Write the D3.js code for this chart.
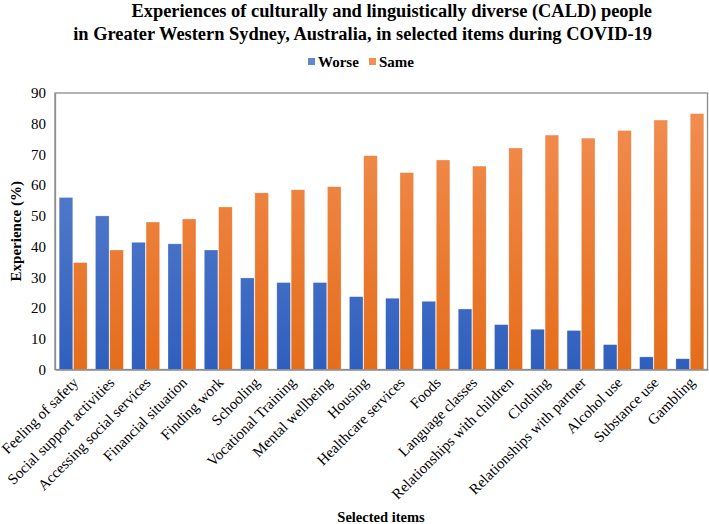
<!DOCTYPE html>
<html>
<head>
<meta charset="utf-8">
<script src="https://cdn.jsdelivr.net/npm/d3@7"></script>
<style>
  html, body { margin: 0; padding: 0; background: #fff; }
  svg { display: block; font-family: "Liberation Serif", "Times New Roman", serif; }
</style>
</head>
<body>
<svg id="chart" width="709" height="524"></svg>
<script>
const categories = ["Feeling of safety", "Social support activities", "Accessing social services",
  "Financial situation", "Finding work", "Schooling", "Vocational Training", "Mental wellbeing",
  "Housing", "Healthcare services", "Foods", "Language classes", "Relationships with children",
  "Clothing", "Relationships with partner", "Alcohol use", "Substance use", "Gambling"];
const worse = [56, 50, 41.4, 40.9, 38.9, 29.8, 28.3, 28.3, 23.7, 23.2, 22.2, 19.7, 14.6, 13.1, 12.7, 8.1, 4.1, 3.5];
const same = [34.8, 38.9, 48, 49, 52.9, 57.5, 58.5, 59.5, 69.6, 64.1, 68.2, 66.2, 72.1, 76.3, 75.3, 77.8, 81.2, 83.3];
const seriesNames = ["Worse", "Same"];
const yTicks = [0, 10, 20, 30, 40, 50, 60, 70, 80, 90];

const svg = d3.select("#chart");
const margin = {left: 55, right: 1, top: 93, bottom: 155};
const W = 709, H = 524;
const x0 = margin.left, x1 = W - margin.right, yTop = margin.top, yBot = 369.5;

const x = d3.scaleBand().domain(categories).range([x0, x1]).paddingInner(0.23).paddingOuter(0.115);
const xs = d3.scaleBand().domain(seriesNames).range([0, x.bandwidth()]).paddingInner(0.05);
const y = d3.scaleLinear().domain([0, 90]).range([yBot, yTop]);

const defs = svg.append("defs");
const grads = [
  {id: "gWorse", top: "#6287d0", bottom: "#2f5fbe"},
  {id: "gSame", top: "#f28f55", bottom: "#e56d1a"}
];
grads.forEach(g => {
  const lg = defs.append("linearGradient").attr("id", g.id)
    .attr("gradientUnits", "userSpaceOnUse")
    .attr("x1", 0).attr("x2", 0).attr("y1", yTop).attr("y2", yBot);
  lg.append("stop").attr("offset", "0%").attr("stop-color", g.top);
  lg.append("stop").attr("offset", "100%").attr("stop-color", g.bottom);
});

// Title
const title = svg.append("text").attr("font-weight", "bold").attr("font-size", 18.4)
  .attr("text-anchor", "end").attr("fill", "#000");
title.append("tspan").attr("x", 652).attr("y", 17).text("Experiences of culturally and linguistically diverse (CALD) people");
title.append("tspan").attr("x", 652).attr("y", 40).text("in Greater Western Sydney, Australia, in selected items during COVID-19");

// Legend
const legend = svg.append("g").attr("font-weight", "bold").attr("font-size", 15);
const legItems = [{name: "Worse", grad: "gWorse", x: 308}, {name: "Same", grad: "gSame", x: 369}];
legItems.forEach(d => {
  legend.append("rect").attr("x", d.x).attr("y", 58).attr("width", 7).attr("height", 7)
    .attr("fill", `url(#${d.grad})`);
  legend.append("text").attr("x", d.x + 10).attr("y", 67).text(d.name);
});

// Plot border
svg.append("rect").attr("x", x0).attr("y", yTop).attr("width", x1 - x0 - 0.5).attr("height", yBot - yTop)
  .attr("fill", "none").attr("stroke", "#8c8c8c").attr("stroke-width", 1.3);

// Bars
const g = svg.append("g");
categories.forEach((c, i) => {
  const vals = [{s: "Worse", v: worse[i], grad: "gWorse"}, {s: "Same", v: same[i], grad: "gSame"}];
  g.selectAll(null).data(vals).enter().append("rect")
    .attr("x", d => x(c) + xs(d.s))
    .attr("y", d => y(d.v))
    .attr("width", xs.bandwidth())
    .attr("height", d => yBot - y(d.v))
    .attr("fill", d => `url(#${d.grad})`)
    .attr("stroke", "#ffffff").attr("stroke-opacity", 0.45).attr("stroke-width", 0.6);
});

// Y axis
const yAxis = d3.axisLeft(y).tickValues(yTicks).tickSize(0).tickPadding(9);
const ya = svg.append("g").attr("transform", `translate(${x0},0)`).call(yAxis);
ya.select(".domain").attr("stroke", "#8c8c8c").attr("stroke-width", 1.3);
ya.selectAll("text").attr("font-family", "Liberation Serif, serif").attr("font-size", 15).attr("fill", "#000");

// X axis
const xAxis = d3.axisBottom(x).tickSize(0).tickPadding(0);
const xa = svg.append("g").attr("transform", `translate(0,${yBot})`).call(xAxis);
xa.select(".domain").attr("stroke", "#8c8c8c").attr("stroke-width", 1.3);
xa.selectAll("text").attr("font-family", "Liberation Serif, serif").attr("font-size", 15).attr("fill", "#000")
  .attr("text-anchor", "end").attr("dy", null).attr("y", 0)
  .attr("transform", "translate(6,14) rotate(-45)");

// Axis titles
svg.append("text").attr("font-weight", "bold").attr("font-size", 15).attr("text-anchor", "middle")
  .attr("transform", `translate(21,${(yTop + yBot) / 2}) rotate(-90)`).text("Experience (%)");
svg.append("text").attr("font-weight", "bold").attr("font-size", 14.5).attr("text-anchor", "middle")
  .attr("x", 381).attr("y", 522).text("Selected items");
</script>
</body>
</html>
